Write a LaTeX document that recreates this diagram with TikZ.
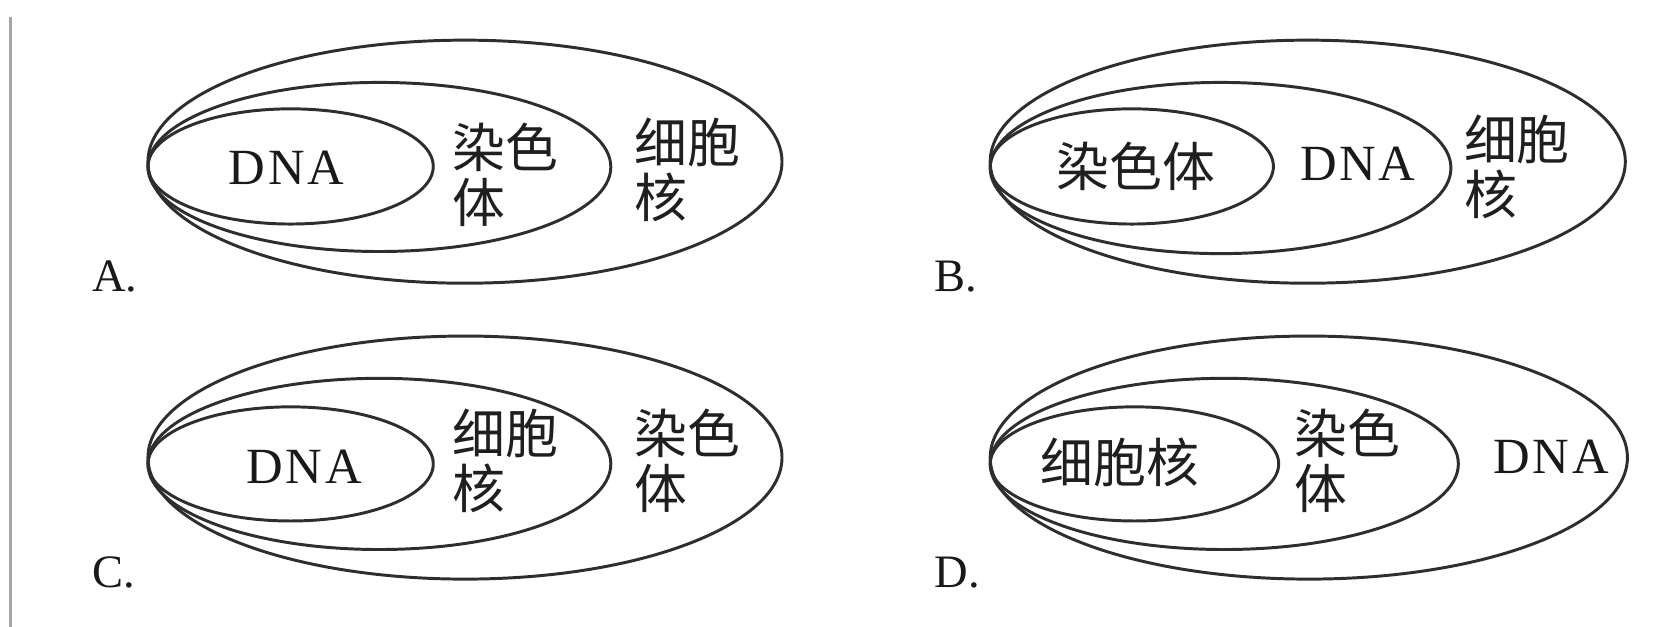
\documentclass[tikz,border=0pt]{standalone}
\usepackage{fontspec}
\setmainfont{Liberation Serif}
\newfontfamily\cjk{Noto Sans CJK SC}
\usetikzlibrary{shapes.geometric}
\tikzset{
  ring/.style={draw=black!82, line width=1.4pt, ellipse, inner sep=0pt, outer sep=0pt},
  zh/.style={font=\cjk\fontsize{25}{26}\selectfont, inner sep=0pt, align=left, text=black!88},
  dnatxt/.style={font=\fontsize{24}{26}\selectfont, inner sep=0pt, text=black!90},
  optlbl/.style={font=\fontsize{22}{24}\selectfont, inner sep=0pt, anchor=base west, text=black!90}
}
\newcommand\DNAword{D\kern1.2pt N\kern1.2pt A}
\begin{document}
\begin{tikzpicture}[x=0.5pt,y=-0.5pt]
\useasboundingbox (0,0) rectangle (1568,593);
\coordinate (vtop) at (10,16);
\coordinate (vbot) at (10,593);
\draw[black!35, line width=1.2pt] (vtop) -- (vbot);

% Panel A
\node[ring, minimum width=300pt, minimum height=115pt] (Aout) at (440,153) {};
\node[ring, minimum width=219pt, minimum height=80pt] (Amid) at (359,158) {};
\node[ring, minimum width=135pt, minimum height=54.5pt] (Ain) at (275,157.5) {};
\node[dnatxt] (Adna) at (271,159) {\DNAword};
\node[zh, anchor=west] (Achr) at (428,165) {染色\\体};
\node[zh, anchor=west] (Anuc) at (600,161) {细胞\\核};
\node[optlbl] (Alab) at (87,276) {A.};

% Panel B
\node[ring, minimum width=300.5pt, minimum height=115pt] (Bout) at (1237.5,153) {};
\node[ring, minimum width=218pt, minimum height=81pt] (Bmid) at (1155,159) {};
\node[ring, minimum width=134pt, minimum height=54.5pt] (Bin) at (1071,157.5) {};
\node[zh] (Bchr) at (1075,157) {染色体};
\node[dnatxt] (Bdna) at (1285,155) {\DNAword};
\node[zh, anchor=west] (Bnuc) at (1385,158) {细胞\\核};
\node[optlbl] (Blab) at (884,276) {B.};

% Panel C
\node[ring, minimum width=300pt, minimum height=115pt] (Cout) at (440,433) {};
\node[ring, minimum width=219pt, minimum height=81pt] (Cmid) at (359,439) {};
\node[ring, minimum width=135pt, minimum height=54pt] (Cin) at (275,439) {};
\node[dnatxt] (Cdna) at (288,442) {\DNAword};
\node[zh, anchor=west] (Cnuc) at (428,436) {细胞\\核};
\node[zh, anchor=west] (Cchr) at (600,436) {染色\\体};
\node[optlbl] (Clab) at (87,556) {C.};

% Panel D
\node[ring, minimum width=301.5pt, minimum height=115pt] (Dout) at (1238.5,433) {};
\node[ring, minimum width=221.5pt, minimum height=81pt] (Dmid) at (1158.5,439) {};
\node[ring, minimum width=136.5pt, minimum height=54pt] (Din) at (1073.5,439) {};
\node[zh] (Dnuc) at (1060,438) {细胞核};
\node[zh, anchor=west] (Dchr) at (1225,436) {染色\\体};
\node[dnatxt] (Ddna) at (1468,432) {\DNAword};
\node[optlbl] (Dlab) at (884,556) {D.};
\end{tikzpicture}
\end{document}
